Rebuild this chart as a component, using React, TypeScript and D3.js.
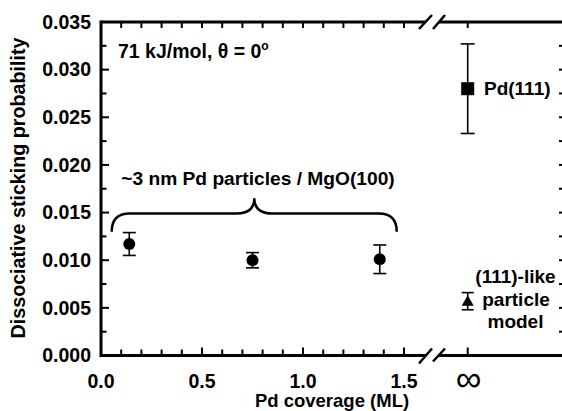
import React from "react";
import * as d3 from "d3";

// ---- data ----
const coverage = [0.14, 0.75, 1.38];
const sticking = [0.0117, 0.01, 0.0101];
const stickingErr = [0.0012, 0.0008, 0.0015];

const pd111Value = 0.0280;
const pd111Err = 0.0047;
const modelValue = 0.0057;
const modelErr = 0.0009;

const xTickLabels = ["0.0", "0.5", "1.0", "1.5"];
const xTickValues = [0, 0.5, 1.0, 1.5];
const yTickValues = [0, 0.005, 0.01, 0.015, 0.02, 0.025, 0.03, 0.035];
const yTickLabels = ["0.000", "0.005", "0.010", "0.015", "0.020", "0.025", "0.030", "0.035"];
const xMinorTicks = [0.1, 0.2, 0.3, 0.4, 0.5, 0.6, 0.7, 0.8, 0.9, 1.0, 1.1, 1.2, 1.3, 1.4, 1.5];
const yMinorTicks = [0.0025, 0.0075, 0.0125, 0.0175, 0.0225, 0.0275, 0.0325];
const rightTicks = [0.0025, 0.005, 0.0075, 0.01, 0.0125, 0.015, 0.0175, 0.02, 0.0225, 0.025, 0.0275, 0.03, 0.0325];

// brace annotation (data coords)
const braceX = [0.053, 0.759, 1.464];
const braceY = [0.013, 0.0149, 0.0165];

const W = 562;
const H = 411;
const left = 101;
const top = 22;
const bottom = 355.5;
const rightEdge = 565;
const breakL = 426;
const breakR = 439;
const infX = 467.7;

const FONT = "'Liberation Sans', Arial, Helvetica, sans-serif";

export default function App() {
  const x = d3.scaleLinear().domain([0, 1.5]).range([left, left + 303]);
  const y = d3.scaleLinear().domain([0, 0.035]).range([bottom, top]);

  const r = 18; // brace corner radius px
  const bx0 = x(braceX[0]);
  const bxm = x(braceX[1]);
  const bx1 = x(braceX[2]);
  const byEnd = y(braceY[0]);
  const byBar = y(braceY[1]);
  const byTip = y(braceY[2]);
  const bracePath = `M${bx0},${byEnd} Q${bx0},${byBar} ${bx0 + r},${byBar} L${bxm - r},${byBar} Q${bxm},${byBar} ${bxm},${byTip} Q${bxm},${byBar} ${bxm + r},${byBar} L${bx1 - r},${byBar} Q${bx1},${byBar} ${bx1},${byEnd}`;

  const errBar = (cx: number, v: number, e: number, cap: number, key: string) => (
    <g key={key} stroke="#000" strokeWidth={1.6}>
      <line x1={cx} x2={cx} y1={y(v + e)} y2={y(v - e)} />
      <line x1={cx - cap} x2={cx + cap} y1={y(v + e)} y2={y(v + e)} />
      <line x1={cx - cap} x2={cx + cap} y1={y(v - e)} y2={y(v - e)} />
    </g>
  );

  const ty = y(modelValue);
  return (
    <svg width={W} height={H} style={{ position: "absolute", left: 0, top: 0, background: "#fff" }} fontFamily={FONT}>
      <rect x={0} y={0} width={W} height={H} fill="#fff" />
      {/* axes lines */}
      <g stroke="#000" strokeWidth={3} fill="none">
        <line x1={left} x2={left} y1={top - 1.5} y2={bottom + 1.5} />
        <line x1={left} x2={breakL} y1={bottom} y2={bottom} />
        <line x1={breakR} x2={rightEdge} y1={bottom} y2={bottom} />
        <line x1={left} x2={breakL} y1={top} y2={top} />
        <line x1={breakR} x2={rightEdge} y1={top} y2={top} />
        <line x1={rightEdge} x2={rightEdge} y1={top} y2={bottom} />
      </g>
      {/* break slashes */}
      <g stroke="#000" strokeWidth={2.5}>
        <line x1={breakL - 7} x2={breakL + 6} y1={bottom + 8} y2={bottom - 7} />
        <line x1={breakR - 6} x2={breakR + 6} y1={bottom + 6} y2={bottom - 7} />
        <line x1={breakL - 7} x2={breakL + 6} y1={top + 7} y2={top - 7} />
        <line x1={breakR - 6} x2={breakR + 6} y1={top + 7} y2={top - 7} />
      </g>
      {/* ticks */}
      <g stroke="#000" strokeWidth={2}>
        {yTickValues.slice(1, -1).map((v, i) => (
          <line key={"ym" + i} x1={left} x2={left + 8} y1={y(v)} y2={y(v)} />
        ))}
        {yMinorTicks.map((v, i) => (
          <line key={"yn" + i} x1={left} x2={left + 5.5} y1={y(v)} y2={y(v)} />
        ))}
        {rightTicks.map((v, i) => (
          <line key={"rt" + i} x1={rightEdge - 6} x2={rightEdge} y1={y(v)} y2={y(v)} />
        ))}
        {xMinorTicks.map((v, i) => {
          const major = Math.abs((v * 10) % 5) < 1e-6;
          return (
            <line key={"xb" + i} x1={x(v)} x2={x(v)} y1={bottom} y2={bottom - (major ? 8 : 6)} />
          );
        })}
        {xMinorTicks.map((v, i) => (
          <line key={"xt" + i} x1={x(v)} x2={x(v)} y1={top} y2={top + 6} />
        ))}
        <line x1={infX} x2={infX} y1={bottom} y2={bottom - 8} />
        <line x1={infX} x2={infX} y1={top} y2={top + 6} />
      </g>
      {/* tick labels */}
      <g fontSize={19.5} fontWeight="bold" fill="#000">
        {yTickValues.map((v, i) => (
          <text key={"yl" + i} x={91} y={y(v) + 6.8} textAnchor="end">
            {yTickLabels[i]}
          </text>
        ))}
        {xTickValues.map((v, i) => (
          <text key={"xl" + i} x={x(v)} y={388} textAnchor="middle">
            {xTickLabels[i]}
          </text>
        ))}
      </g>
      <text x={infX + 1} y={391} textAnchor="middle" fontSize={36} fill="#000">∞</text>
      {/* axis titles */}
      <text
        transform={`translate(24.5,188) rotate(-90)`}
        textAnchor="middle"
        fontSize={19.7}
        fontWeight="bold"
        fill="#000"
      >
        Dissociative sticking probability
      </text>
      <text x={332} y={407} textAnchor="middle" fontSize={18.5} fontWeight="bold" fill="#000">
        Pd coverage (ML)
      </text>
      {/* annotations */}
      <text x={118} y={58} fontSize={19.5} fontWeight="bold" fill="#000">
        71 kJ/mol, θ = 0<tspan dy={-8} fontSize={12}>o</tspan>
      </text>
      <text x={258} y={185} textAnchor="middle" fontSize={19.2} fontWeight="bold" fill="#000">
        ~3 nm Pd particles / MgO(100)
      </text>
      <path d={bracePath} fill="none" stroke="#000" strokeWidth={2.5} />
      {/* data */}
      {coverage.map((c, i) => errBar(x(c), sticking[i], stickingErr[i], 6.5, "e" + i))}
      {coverage.map((c, i) => (
        <circle key={"c" + i} cx={x(c)} cy={y(sticking[i])} r={6} fill="#000" />
      ))}
      {errBar(infX, pd111Value, pd111Err, 7, "pd")}
      <rect x={infX - 6.5} y={y(pd111Value) - 6.5} width={13} height={13} fill="#000" />
      <text x={484} y={95} fontSize={19} fontWeight="bold" fill="#000">Pd(111)</text>
      {errBar(infX, modelValue, modelErr, 6, "md")}
      <path d={`M${infX - 6},${ty + 4.5} L${infX + 6},${ty + 4.5} L${infX},${ty - 6} Z`} fill="#000" />
      <g fontSize={19} fontWeight="bold" fill="#000" textAnchor="middle">
        <text x={515.5} y={283}>(111)-like</text>
        <text x={516} y={305.5}>particle</text>
        <text x={515.5} y={328}>model</text>
      </g>
    </svg>
  );
}
